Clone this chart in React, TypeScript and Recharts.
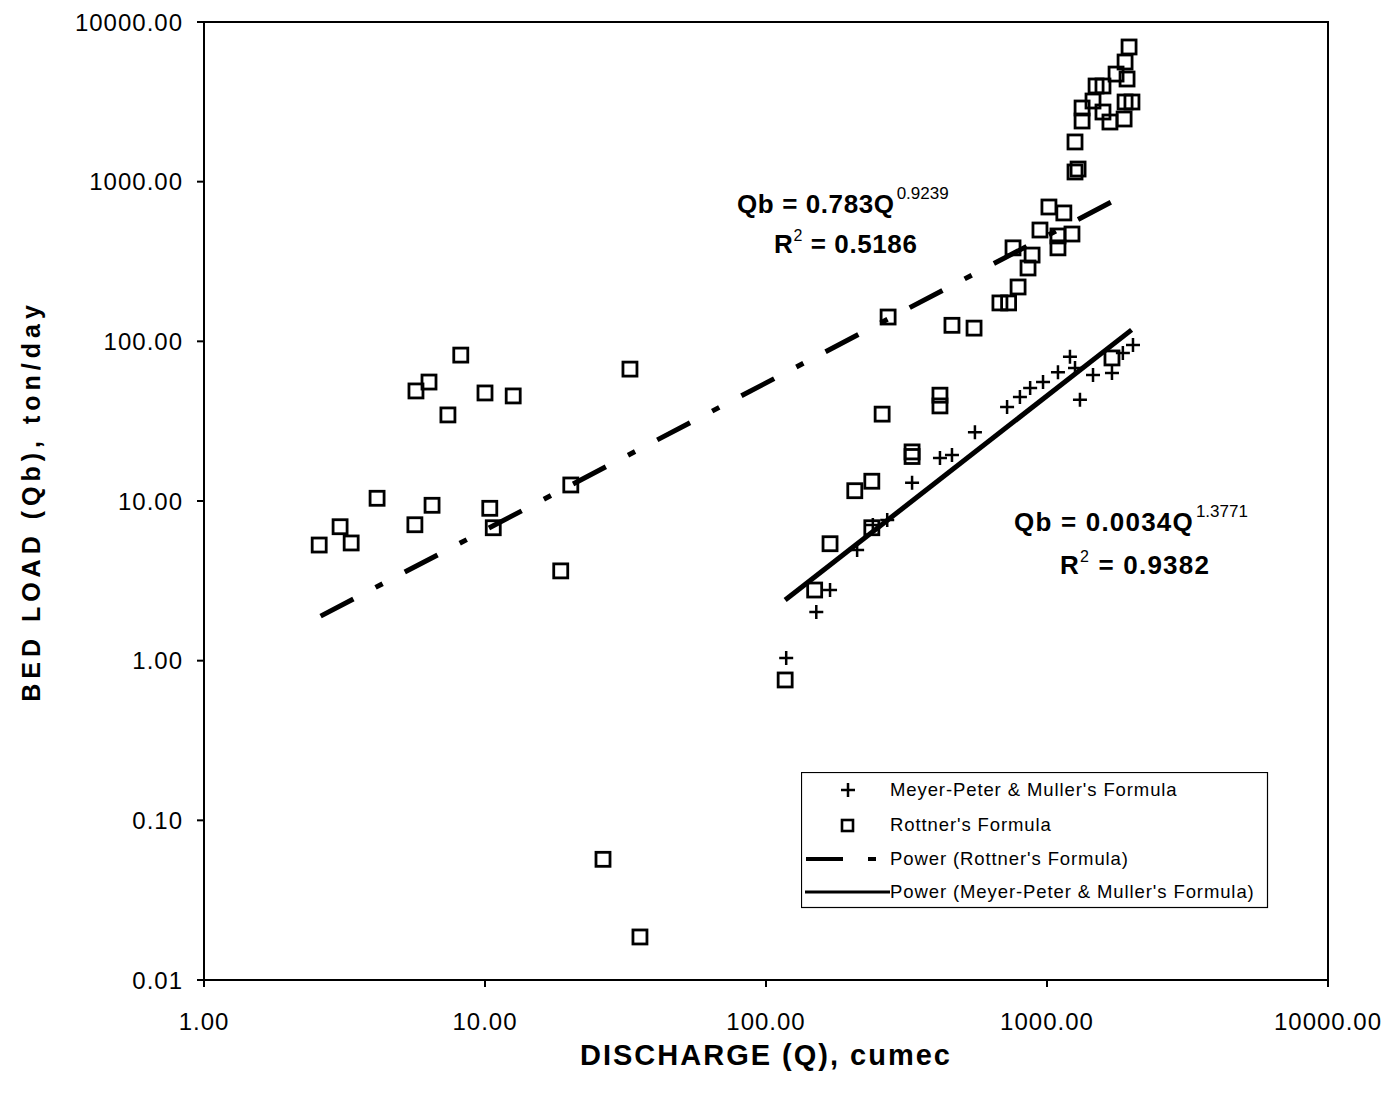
import React from "react";
import {
  ScatterChart,
  Scatter,
  XAxis,
  YAxis,
  ReferenceArea,
  Legend,
} from "recharts";

// Rottner's formula points (Q cumec, Qb ton/day)
const rottnerQ = [
  2.57, 3.05, 3.34, 4.13, 5.63, 6.48, 5.68, 6.32, 7.38, 8.2, 10.0, 12.6, 10.4, 10.7,
  18.6, 20.2, 32.8, 26.3, 35.6, 117, 149, 169, 207, 238, 238, 259, 331, 331, 416, 416,
  272, 459, 550, 680, 730, 789, 757, 856, 885, 944, 1016, 1148, 1094, 1094, 1227,
  1258, 1290, 1258, 1333, 1333, 1495, 1582, 1458, 1582, 1675, 1761, 1927, 1881, 1896,
  1959, 1896, 2006, 1703,
];
const rottnerQb = [
  5.3, 6.9, 5.46, 10.4, 7.1, 9.4, 48.9, 55.6, 34.6, 82, 47.5, 45.5, 9.0, 6.8,
  3.65, 12.6, 67, 0.057, 0.0186, 0.757, 2.77, 5.4, 11.6, 13.3, 6.8, 35, 20.3, 19, 46, 39.4,
  142, 126, 121, 174, 174, 219, 385, 288, 347, 498, 694, 637, 457, 385, 470,
  1150, 1200, 1773, 2893, 2399, 3974, 3974, 3200, 2731, 2364, 4720, 4395, 2469, 5617,
  6975, 3155, 3155, 78.7,
];

// Meyer-Peter & Muller's formula points
const mpmQ = [
  118, 151, 169, 211, 240, 270, 331, 416, 459, 554, 721, 801, 871, 968, 1094,
  1258, 1207, 1458, 1310, 1703, 1862, 2023,
];
const mpmQb = [
  1.04, 2.02, 2.77, 4.93, 7.08, 7.6, 13, 18.6, 19.4, 27, 38.8, 44.8, 51, 55.6, 64,
  68, 80, 61.5, 43, 63.4, 84.5, 95,
];

// fitted power trend lines, end points
const rottnerTrendQ = [2.6, 1780];
const rottnerTrendQb = [1.9, 780];
const mpmTrendQ = [117, 2000];
const mpmTrendQb = [2.4, 118];

const xTicks = [1, 10, 100, 1000, 10000];
const yTicks = [0.01, 0.1, 1, 10, 100, 1000, 10000];

const legendLabels = [
  "Meyer-Peter & Muller's Formula",
  "Rottner's Formula",
  "Power (Rottner's Formula)",
  "Power (Meyer-Peter & Muller's Formula)",
];

const FONT = "'Liberation Sans', Arial, sans-serif";
const ROTTNER_DASH = "37 25 8 25";

const zip = (xs: number[], ys: number[]) => xs.map((q, i) => ({ q, qb: ys[i] }));

const rottnerData = zip(rottnerQ, rottnerQb);
const mpmData = zip(mpmQ, mpmQb);
const rottnerTrend = zip(rottnerTrendQ, rottnerTrendQb);
const mpmTrend = zip(mpmTrendQ, mpmTrendQb);

const SquareShape = (props: any) => {
  const { cx, cy } = props;
  return (
    <rect x={cx - 7} y={cy - 7} width={14} height={14} fill="none" stroke="#000" strokeWidth={2.8} />
  );
};

const PlusShape = (props: any) => {
  const { cx, cy } = props;
  return (
    <path d={`M${cx - 7},${cy}H${cx + 7}M${cx},${cy - 7}V${cy + 7}`} stroke="#000" strokeWidth={2.5} fill="none" />
  );
};

const NoShape = () => <g />;

function LegendBox() {
  const rowY = [18, 53, 87, 120];
  return (
    <svg width={468} height={137} style={{ display: "block" }}>
      <rect x={0.5} y={0.5} width={466} height={135} fill="#fff" stroke="#000" strokeWidth={1.2} />
      <path d={`M40,${rowY[0]}H54M47,${rowY[0] - 7}V${rowY[0] + 7}`} stroke="#000" strokeWidth={2.5} />
      <rect x={41} y={rowY[1] - 5} width={11} height={11} fill="none" stroke="#000" strokeWidth={2.6} />
      <line x1={5} x2={78} y1={rowY[2]} y2={rowY[2]} stroke="#000" strokeWidth={4} strokeDasharray="37 25 8 25" />
      <line x1={4} x2={89} y1={rowY[3]} y2={rowY[3]} stroke="#000" strokeWidth={3} />
      {legendLabels.map((t, i) => (
        <text key={t} x={89} y={rowY[i] + 6} fontSize={18.5} letterSpacing={0.9} fontFamily={FONT} fill="#000">
          {t}
        </text>
      ))}
    </svg>
  );
}

export default function App() {
  return (
    <div style={{ position: "absolute", left: 0, top: 0, width: 1395, height: 1097, background: "#fff" }}>
      <ScatterChart width={1395} height={1097} margin={{ top: 22, right: 67, bottom: 27, left: 24 }}>
        <XAxis
          type="number"
          dataKey="q"
          scale="log"
          domain={[1, 10000]}
          ticks={xTicks}
          allowDataOverflow
          height={90}
          stroke="#000"
          strokeWidth={2}
          tickSize={7}
          tickMargin={26}
          tickFormatter={(v: number) => v.toFixed(2)}
          tick={{ fill: "#000", fontSize: 24, fontFamily: FONT, letterSpacing: 1 }}
          label={{
            value: "DISCHARGE (Q), cumec",
            position: "insideBottom",
            offset: 5,
            style: { fill: "#000", fontSize: 29, fontWeight: 700, fontFamily: FONT, letterSpacing: 2 },
          }}
        />
        <YAxis
          type="number"
          dataKey="qb"
          scale="log"
          domain={[0.01, 10000]}
          ticks={yTicks}
          allowDataOverflow
          width={180}
          stroke="#000"
          strokeWidth={2}
          tickSize={7}
          tickMargin={14}
          tickFormatter={(v: number) => v.toFixed(2)}
          tick={{ fill: "#000", fontSize: 24, fontFamily: FONT, letterSpacing: 1 }}
          label={{
            value: "BED LOAD (Qb), ton/day",
            angle: -90,
            position: "insideLeft",
            offset: 7,
            style: { fill: "#000", fontSize: 25, fontWeight: 700, fontFamily: FONT, letterSpacing: 5, textAnchor: "middle" },
          }}
        />
        <ReferenceArea x1={1} x2={10000} y1={0.01} y2={10000} fill="none" stroke="#000" strokeWidth={2} ifOverflow="visible" />
        <Scatter
          data={rottnerTrend}
          shape={NoShape}
          line={{ stroke: "#000", strokeWidth: 5, strokeDasharray: ROTTNER_DASH }}
          isAnimationActive={false}
          legendType="none"
        />
        <Scatter
          data={mpmTrend}
          shape={NoShape}
          line={{ stroke: "#000", strokeWidth: 5 }}
          isAnimationActive={false}
          legendType="none"
        />
        <Scatter data={mpmData} shape={PlusShape} isAnimationActive={false} />
        <Scatter data={rottnerData} shape={SquareShape} isAnimationActive={false} />
        <Legend
          layout="horizontal"
          verticalAlign="middle"
          align="center"
          content={() => <LegendBox />}
          wrapperStyle={{ left: 801, top: 772, width: 468, height: 137 }}
        />
      </ScatterChart>
      <svg
        width={1395}
        height={1097}
        style={{ position: "absolute", left: 0, top: 0, pointerEvents: "none" }}
        fontFamily={FONT}
        fontWeight={700}
        fill="#000"
      >
        <text x={737} y={213} fontSize={26} letterSpacing={0.6}>
          Qb = 0.783Q<tspan dx={2} dy={-14} fontSize={17} fontWeight={400} letterSpacing={0}>0.9239</tspan>
        </text>
        <text x={774} y={253} fontSize={26} letterSpacing={0.6}>
          R<tspan dy={-12} fontSize={16} fontWeight={400}>2</tspan>
          <tspan dy={12}> = 0.5186</tspan>
        </text>
        <text x={1014} y={531} fontSize={26} letterSpacing={1.2}>
          Qb = 0.0034Q<tspan dx={2} dy={-14} fontSize={17} fontWeight={400} letterSpacing={0}>1.3771</tspan>
        </text>
        <text x={1060} y={574} fontSize={26} letterSpacing={1.2}>
          R<tspan dy={-12} fontSize={16} fontWeight={400}>2</tspan>
          <tspan dy={12}> = 0.9382</tspan>
        </text>
      </svg>
    </div>
  );
}
